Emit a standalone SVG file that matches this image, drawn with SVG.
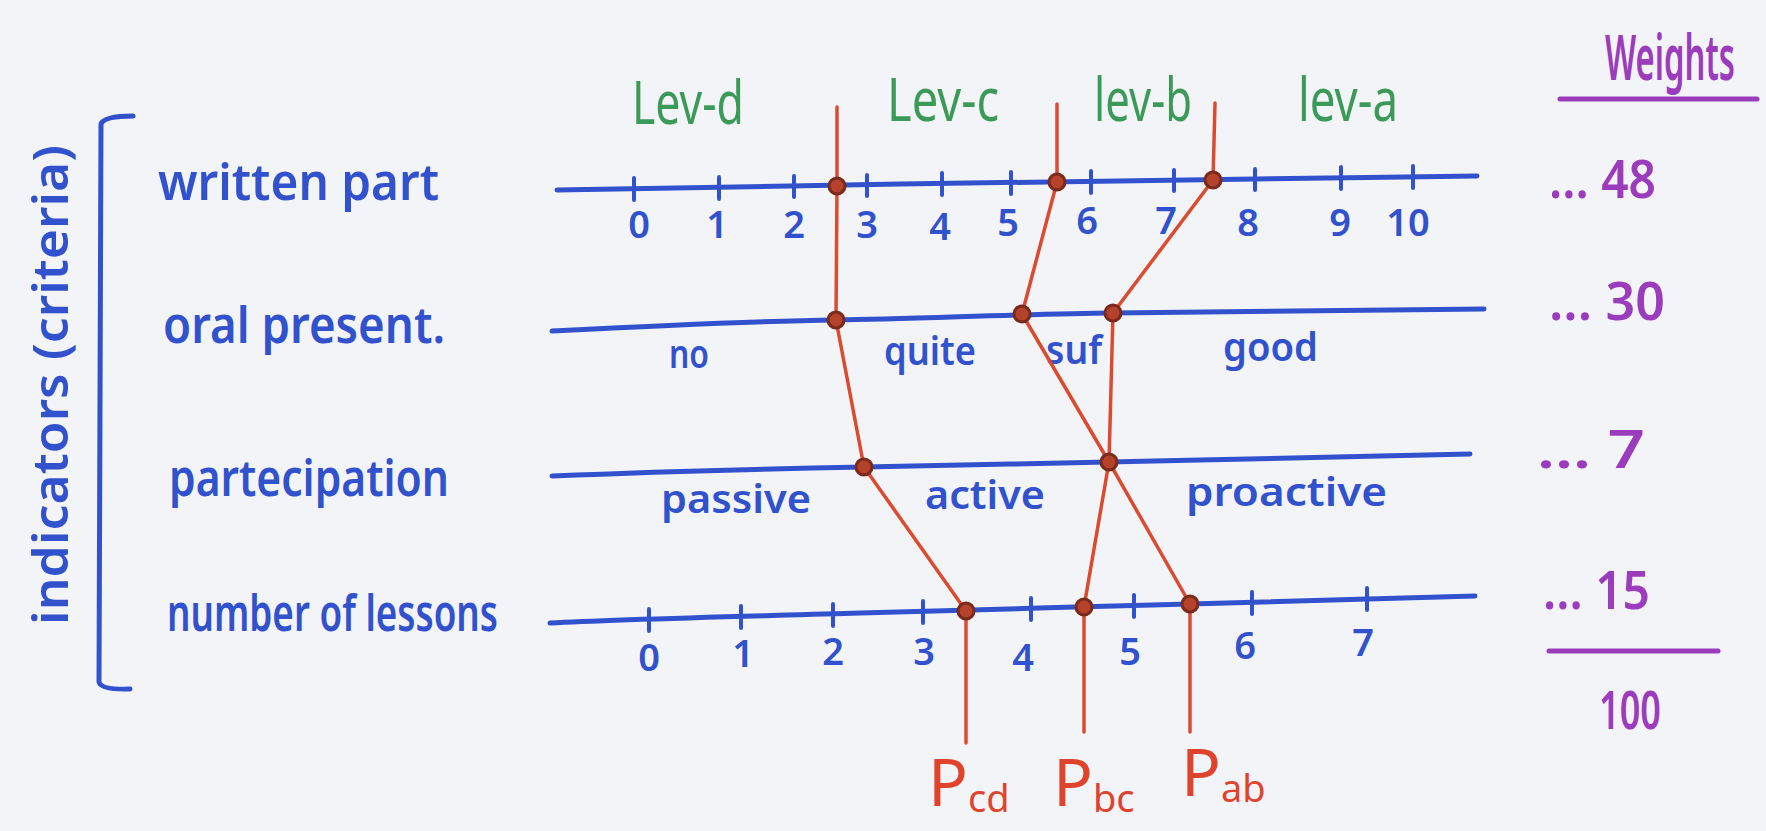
<svg xmlns="http://www.w3.org/2000/svg" width="1766" height="831" viewBox="0 0 1766 831">
<style>
.bg{fill:#f3f4f8}
.axis{stroke:#3152cc;stroke-width:5;fill:none;stroke-linecap:round;stroke-linejoin:round}
.tick{stroke:#3152cc;stroke-width:4;stroke-linecap:round;fill:none}
.red{stroke:#dc4a30;stroke-width:3.5;fill:none;stroke-linecap:round;stroke-linejoin:round}
.knot{fill:#b5432c;stroke:#7a2a1c;stroke-width:3}
text{font-family:"Noto Sans","Liberation Sans",sans-serif;font-weight:600}
.lbl{fill:#3152cc;font-size:50px}
.cat{fill:#3152cc;font-size:40px}
.num{fill:#3152cc;font-size:38px;text-anchor:middle}
.lev{fill:#3c9a58;font-size:60px;font-weight:normal}
.wt{fill:#9b3cbc;font-size:52px}
.pl{fill:#e0432b;font-size:66px;font-weight:normal}
.sub{font-size:38px}
</style>
<rect class="bg" x="0" y="0" width="1766" height="831"/>

<g id="indicators">
  <path class="axis" d="M133,116 Q104,116 101,124 L99,682 Q101,690 130,689"/>
  <text class="lbl" transform="translate(68,385) rotate(-90)" text-anchor="middle" style="font-size:48px" textLength="480" lengthAdjust="spacingAndGlyphs">indicators (criteria)</text>
</g>

<g id="row-written">
  <text class="lbl" x="158" y="200" textLength="281" lengthAdjust="spacingAndGlyphs">written part</text>
  <path class="axis" d="M557,190 C700,188 800,185 900,184 S1250,179 1477,176"/>
  <path class="tick" d="M634,178V200 M719,177V199 M794,176V197 M867,175V196 M942,173V195 M1011,172V194 M1091,171V193 M1174,170V191 M1255,169V190 M1341,167V189 M1413,166V188"/>
  <text class="num" x="639" y="238">0</text>
  <text class="num" x="717" y="238">1</text>
  <text class="num" x="794" y="238">2</text>
  <text class="num" x="867" y="238">3</text>
  <text class="num" x="940" y="240">4</text>
  <text class="num" x="1008" y="236">5</text>
  <text class="num" x="1087" y="234">6</text>
  <text class="num" x="1166" y="234">7</text>
  <text class="num" x="1248" y="236">8</text>
  <text class="num" x="1340" y="236">9</text>
  <text class="num" x="1408" y="236">10</text>
</g>

<g id="levels">
  <text class="lev" x="632" y="124" textLength="112" lengthAdjust="spacingAndGlyphs">Lev-d</text>
  <text class="lev" x="887" y="121" textLength="112" lengthAdjust="spacingAndGlyphs">Lev-c</text>
  <text class="lev" x="1094" y="121" textLength="98" lengthAdjust="spacingAndGlyphs">lev-b</text>
  <text class="lev" x="1298" y="121" textLength="100" lengthAdjust="spacingAndGlyphs">lev-a</text>
</g>

<g id="row-oral">
  <text class="lbl" x="163" y="343" textLength="282" lengthAdjust="spacingAndGlyphs">oral present.</text>
  <path class="axis" d="M552,331 C650,326 760,321 836,320 S1022,314 1113,313 S1300,311 1484,309"/>
  <text class="cat" x="669" y="368" textLength="40" lengthAdjust="spacingAndGlyphs">no</text>
  <text class="cat" x="884" y="365" textLength="92" lengthAdjust="spacingAndGlyphs">quite</text>
  <text class="cat" x="1046" y="364" textLength="56" lengthAdjust="spacingAndGlyphs">suf</text>
  <text class="cat" x="1223" y="361" textLength="95" lengthAdjust="spacingAndGlyphs">good</text>
</g>

<g id="row-partecipation">
  <text class="lbl" x="169" y="496" textLength="280" lengthAdjust="spacingAndGlyphs">partecipation</text>
  <path class="axis" d="M552,476 C650,472 760,469 864,467 S1109,462 1200,460 S1380,456 1470,454"/>
  <text class="cat" x="661" y="513" textLength="150" lengthAdjust="spacingAndGlyphs">passive</text>
  <text class="cat" x="925" y="509" textLength="120" lengthAdjust="spacingAndGlyphs">active</text>
  <text class="cat" x="1186" y="506" textLength="201" lengthAdjust="spacingAndGlyphs">proactive</text>
</g>

<g id="row-lessons">
  <text class="lbl" x="167" y="631" textLength="331" lengthAdjust="spacingAndGlyphs">number of lessons</text>
  <path class="axis" d="M550,623 C620,619 760,616 860,613 S1084,607 1190,604 S1400,598 1475,596"/>
  <path class="tick" d="M649,609V631 M741,606V628 M833,604V626 M923,601V623 M1031,598V620 M1134,595V617 M1252,592V614 M1367,588V610"/>
  <text class="num" x="649" y="671">0</text>
  <text class="num" x="743" y="667">1</text>
  <text class="num" x="833" y="665">2</text>
  <text class="num" x="924" y="665">3</text>
  <text class="num" x="1023" y="671">4</text>
  <text class="num" x="1130" y="665">5</text>
  <text class="num" x="1245" y="659">6</text>
  <text class="num" x="1363" y="656">7</text>
</g>

<g id="connectors">
  <path class="red" d="M837,107 L837,186 L836,320 L864,467 L966,611 L966,743"/>
  <path class="red" d="M1057,104 L1057,182 L1022,314 L1109,462 L1190,604 L1190,732"/>
  <path class="red" d="M1215,103 L1213,180 L1113,313 L1109,462 L1084,607 L1084,732"/>
  <circle class="knot" cx="837" cy="186" r="8"/>
  <circle class="knot" cx="1057" cy="182" r="8"/>
  <circle class="knot" cx="1213" cy="180" r="8"/>
  <circle class="knot" cx="836" cy="320" r="8"/>
  <circle class="knot" cx="1022" cy="314" r="8"/>
  <circle class="knot" cx="1113" cy="313" r="8"/>
  <circle class="knot" cx="864" cy="467" r="8"/>
  <circle class="knot" cx="1109" cy="462" r="8"/>
  <circle class="knot" cx="966" cy="611" r="8"/>
  <circle class="knot" cx="1084" cy="607" r="8"/>
  <circle class="knot" cx="1190" cy="604" r="8"/>
</g>

<g id="p-labels">
  <text class="pl" x="928" y="806">P<tspan class="sub" dy="6">cd</tspan></text>
  <text class="pl" x="1053" y="806">P<tspan class="sub" dy="6">bc</tspan></text>
  <text class="pl" x="1181" y="796">P<tspan class="sub" dy="6">ab</tspan></text>
</g>

<g id="weights">
  <text class="wt" transform="translate(1605,80) scale(1,1.6)" x="0" y="0" style="font-size:40px" textLength="130" lengthAdjust="spacingAndGlyphs">Weights</text>
  <path d="M1560,99 L1757,99" stroke="#9b3cbc" stroke-width="5" stroke-linecap="round"/>
  <text class="wt" x="1549" y="198" textLength="107" lengthAdjust="spacingAndGlyphs">... 48</text>
  <text class="wt" x="1549" y="320" textLength="116" lengthAdjust="spacingAndGlyphs">... 30</text>
  <text class="wt" x="1537" y="468" textLength="108" lengthAdjust="spacingAndGlyphs">... 7</text>
  <text class="wt" x="1543" y="609" textLength="107" lengthAdjust="spacingAndGlyphs">... 15</text>
  <path d="M1549,651 L1718,651" stroke="#9b3cbc" stroke-width="5" stroke-linecap="round"/>
  <text class="wt" x="1599" y="729" textLength="62" lengthAdjust="spacingAndGlyphs">100</text>
</g>
</svg>
